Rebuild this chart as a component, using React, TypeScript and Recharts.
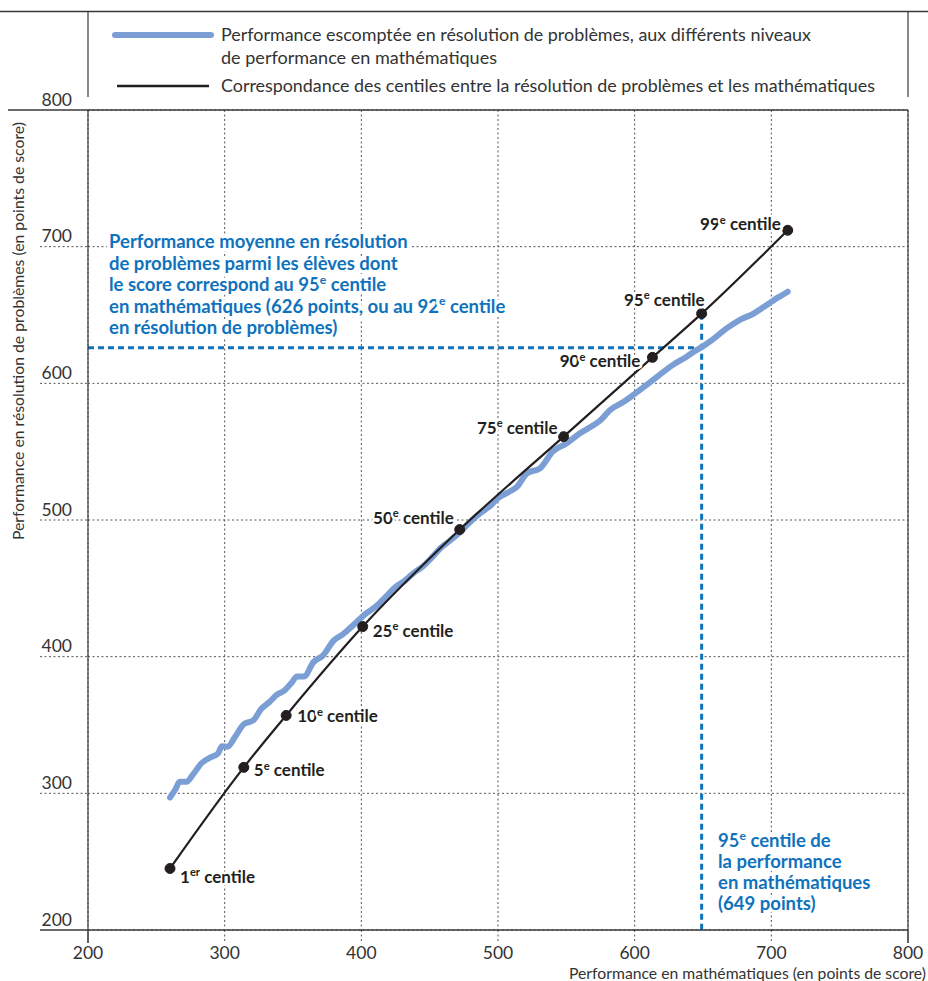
import React from 'react'
import { LineChart, Line, XAxis, YAxis, CartesianGrid, ReferenceLine, LabelList } from 'recharts'

const W = 928
const H = 981
const PLOT = { left: 88, right: 908, top: 110, bottom: 930 }

const axisTicks = [200, 300, 400, 500, 600, 700, 800]

// correspondance des centiles (ligne noire)
const centileNames = ['1', '5', '10', '25', '50', '75', '90', '95', '99']
const centileMath = [260, 314, 345, 401, 472, 548, 613, 649, 712]
const centileProb = [245, 319, 357, 422, 493, 561, 619, 651, 712]

// performance escomptée (ligne bleue)
const expMath = [260, 264, 267, 272, 277, 283, 290, 295, 298, 302, 308, 314, 321, 327, 333, 338, 344, 349, 353, 358, 365, 372, 380, 386, 394, 404, 411, 418, 425, 431, 438, 445, 452, 458, 465, 472, 479, 487, 494, 500, 507, 514, 521, 531, 540, 550, 560, 570, 575, 582, 592, 599, 609, 618, 628, 638, 643, 649, 657, 667, 677, 687, 693, 697, 702, 707, 712]
const expProb = [297, 303, 308.5, 308.5, 314, 322, 326.5, 329, 334.5, 334, 342, 350.5, 353.5, 362, 367, 372, 375.5, 381, 385.5, 385.5, 396, 401, 412, 416, 423, 432, 437, 444, 451, 455, 461, 466, 473, 479.5, 485, 491, 498, 505, 510, 516, 520, 524.5, 534, 538, 550, 556, 563.5, 569.5, 573, 580.5, 586.5, 591.5, 599, 606, 613.5, 619.5, 623, 626.5, 632, 640, 646.5, 651, 655, 657.5, 661, 664, 667]

const p95Math = 649
const p95Prob = 651
const probAtP95 = 626

const centileRows = centileMath.map((m, i) => ({ m, p: centileProb[i], name: centileNames[i] }))
const expRows = expMath.map((m, i) => ({ m, p: expProb[i] }))

const FONT = 'Lato, "Open Sans", sans-serif'
const INK = '#231f20'
const BLUE_LINE = '#7b9fd5'
const NOTE = '#0f72bd'
const GRID = '#555'
const FRAME = '#3a3a3a'

// décalage du libellé par rapport au point : dx, dy, ancrage
const labelPos: Record<string, [number, number, 'start' | 'end']> = {
  '1': [10, 14, 'start'],
  '5': [10, 9, 'start'],
  '10': [11, 7, 'start'],
  '25': [10, 10, 'start'],
  '50': [-6, -6, 'end'],
  '75': [-6, -3, 'end'],
  '90': [-12, 10, 'end'],
  '95': [3, -8, 'end'],
  '99': [-7, 0, 'end'],
}

const halo = { stroke: '#fff', strokeWidth: 5, paintOrder: 'stroke' as const, strokeLinejoin: 'round' as const }

// texte avec exposant : avant, exposant, après
function supText(before: string, sup: string, after: string, size: number) {
  return (
    <>
      {before}
      <tspan dy={-size * 0.38} fontSize={size * 0.66}>{sup}</tspan>
      <tspan dy={size * 0.38}>{after}</tspan>
    </>
  )
}

function CentileLabel(props: any) {
  const vb = props.viewBox || {}
  const x = props.x ?? vb.x
  const y = props.y ?? vb.y
  const name = String(props.value)
  const [dx, dy, anchor] = labelPos[name] || [8, 5, 'start']
  return (
    <text x={x + dx} y={y + dy} textAnchor={anchor} fontFamily={FONT} fontWeight={700} fontSize={17} fill={INK} {...halo}>
      {supText(name, name === '1' ? 'er' : 'e', ' centile', 17)}
    </text>
  )
}

function XTick(props: any) {
  const { x, payload } = props
  const edge = payload.value === 200 || payload.value === 800
  return (
    <g>
      <line x1={x} x2={x} y1={PLOT.bottom} y2={PLOT.bottom + 13} stroke={edge ? FRAME : GRID} strokeDasharray={edge ? undefined : '2 2.5'} />
      <text x={x} y={PLOT.bottom + 29} textAnchor="middle" fontFamily={FONT} fontSize={17.5} fill="#333">{payload.value}</text>
    </g>
  )
}

function YTick(props: any) {
  const { y, payload } = props
  const edge = payload.value === 200 || payload.value === 800
  return (
    <g>
      {!edge && <line x1={40} x2={PLOT.left} y1={y} y2={y} stroke={GRID} strokeDasharray="2 2.5" />}
      <text x={72} y={y - 4.5} textAnchor="end" fontFamily={FONT} fontSize={17.5} fill="#333">{payload.value}</text>
    </g>
  )
}

function Overlay() {
  const fs = 18.5
  const noteText = { fontFamily: FONT, fontWeight: 700, fontSize: fs, fill: NOTE, ...halo, strokeWidth: 7 }
  return (
    <svg width={W} height={H} style={{ position: 'absolute', left: 0, top: 0, pointerEvents: 'none' }}>
      {/* cadre */}
      <line x1={0} x2={W} y1={11.5} y2={11.5} stroke={FRAME} strokeWidth={1.3} />
      <line x1={PLOT.left} x2={PLOT.left} y1={11.5} y2={97} stroke={FRAME} strokeWidth={1.2} />
      <line x1={PLOT.right} x2={PLOT.right} y1={11.5} y2={97} stroke={FRAME} strokeWidth={1.2} />
      <line x1={8} x2={PLOT.right} y1={PLOT.top} y2={PLOT.top} stroke={FRAME} strokeWidth={1.3} />
      <line x1={40} x2={PLOT.right} y1={PLOT.bottom} y2={PLOT.bottom} stroke={FRAME} strokeWidth={1.3} />
      <line x1={PLOT.left} x2={PLOT.left} y1={PLOT.top} y2={PLOT.bottom + 13} stroke={FRAME} strokeWidth={1.2} />
      <line x1={PLOT.right} x2={PLOT.right} y1={PLOT.top} y2={PLOT.bottom + 13} stroke={FRAME} strokeWidth={1.2} />

      {/* légende */}
      <line x1={115} x2={211} y1={35} y2={35} stroke={BLUE_LINE} strokeWidth={6} strokeLinecap="round" />
      <line x1={117} x2={209} y1={86} y2={86} stroke={INK} strokeWidth={2.5} />
      <g fontFamily={FONT} fontSize={17} fill="#333">
        <text x={221} y={41} textLength={590} lengthAdjust="spacingAndGlyphs">Performance escomptée en résolution de problèmes, aux différents niveaux</text>
        <text x={221} y={64} textLength={276} lengthAdjust="spacingAndGlyphs">de performance en mathématiques</text>
        <text x={221} y={92} textLength={654} lengthAdjust="spacingAndGlyphs">Correspondance des centiles entre la résolution de problèmes et les mathématiques</text>
      </g>

      {/* titres des axes */}
      <text transform="translate(24, 331) rotate(-90)" textAnchor="middle" fontFamily={FONT} fontSize={15} fill="#333" textLength={418} lengthAdjust="spacingAndGlyphs">
        Performance en résolution de problèmes (en points de score)
      </text>
      <text x={926} y={979} textAnchor="end" fontFamily={FONT} fontSize={15} fill="#333" textLength={357} lengthAdjust="spacingAndGlyphs">
        Performance en mathématiques (en points de score)
      </text>

      {/* annotations */}
      <g {...noteText}>
        <text x={109} y={248}>Performance moyenne en résolution</text>
        <text x={109} y={269.5}>de problèmes parmi les élèves dont</text>
        <text x={109} y={291}>{supText('le score correspond au 95', 'e', ' centile', fs)}</text>
        <text x={109} y={312.5}>{supText('en mathématiques (626 points, ou au 92', 'e', ' centile', fs)}</text>
        <text x={109} y={334}>en résolution de problèmes)</text>
        <text x={718} y={847}>{supText('95', 'e', ' centile de', fs)}</text>
        <text x={718} y={868}>la performance</text>
        <text x={718} y={889}>en mathématiques</text>
        <text x={718} y={910}>(649 points)</text>
      </g>
    </svg>
  )
}

export default function App() {
  return (
    <div style={{ position: 'relative', width: W, height: H, background: '#fff' }}>
      <style>{`body { margin: 0; }`}</style>
      <LineChart width={W} height={H} margin={{ top: PLOT.top, right: W - PLOT.right, bottom: 0, left: 40 }}>
        <CartesianGrid stroke={GRID} strokeDasharray="2 2.5" />
        <XAxis type="number" dataKey="m" domain={[200, 800]} ticks={axisTicks} height={H - PLOT.bottom} axisLine={false} tickLine={false} tick={<XTick />} allowDataOverflow />
        <YAxis type="number" domain={[200, 800]} ticks={axisTicks} width={PLOT.left - 40} axisLine={false} tickLine={false} tick={<YTick />} allowDataOverflow />
        <ReferenceLine segment={[{ x: 200, y: probAtP95 }, { x: p95Math, y: probAtP95 }]} stroke={NOTE} strokeWidth={3} strokeDasharray="6 4" />
        <ReferenceLine segment={[{ x: p95Math, y: p95Prob }, { x: p95Math, y: 200 }]} stroke={NOTE} strokeWidth={3} strokeDasharray="6 4" />
        <Line data={expRows} dataKey="p" type="monotone" stroke={BLUE_LINE} strokeWidth={6} strokeLinecap="round" strokeLinejoin="round" dot={false} isAnimationActive={false} />
        <Line data={centileRows} dataKey="p" type="monotone" stroke={INK} strokeWidth={2.2} dot={{ r: 5, fill: INK, stroke: INK, strokeWidth: 1 }} isAnimationActive={false}>
          <LabelList dataKey="name" content={<CentileLabel />} />
        </Line>
      </LineChart>
      <Overlay />
    </div>
  )
}
